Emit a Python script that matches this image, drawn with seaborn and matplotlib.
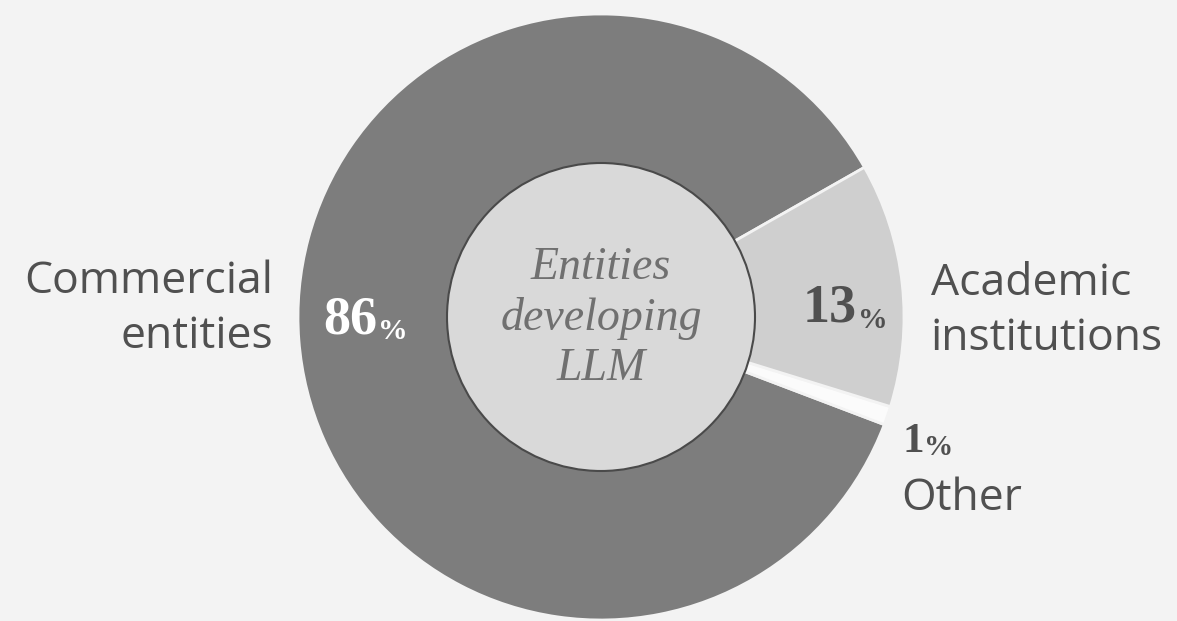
import matplotlib
matplotlib.use("Agg")
import matplotlib.pyplot as plt
import seaborn as sns

# Share of entities developing large language models
segments = ["Commercial entities", "Other", "Academic institutions"]
shares = [86, 1, 13]
label_lines = {
    "Commercial entities": "Commercial\nentities",
    "Academic institutions": "Academic\ninstitutions",
    "Other": "Other",
}
centre_title = "Entities\ndeveloping\nLLM"

sns.set_theme(style="white")
plt.rcParams["font.family"] = ["Open Sans", "DejaVu Sans"]

BG = "#f3f3f3"
W, H = 1177, 621
colors = ["#7d7d7d", "#fbfbfb", "#cfcfcf"]
SERIF = ["Liberation Serif", "DejaVu Serif"]

fig = plt.figure(figsize=(W / 100, H / 100), dpi=100, facecolor=BG)
ax = fig.add_axes([0, 0, 1, 1])
ax.set_facecolor(BG)

cx, cy, r_out, r_in = 601, H - 317, 303, 154


def py(y):
    return H - y


ax.pie(shares, colors=colors, startangle=29.6, counterclock=True,
       radius=r_out, center=(cx, cy),
       wedgeprops=dict(edgecolor=BG, linewidth=2))

ax.add_patch(plt.Circle((cx, cy), r_in, facecolor="#d9d9d9",
                        edgecolor="#4a4a4a", linewidth=1.5, zorder=3))

ax.set_xlim(0, W)
ax.set_ylim(0, H)
ax.set_aspect("equal")
ax.axis("off")

label_kw = dict(fontsize=32, color="#505050", linespacing=1.3)
ax.text(273, py(309), label_lines["Commercial entities"], ha="right",
        va="center", **label_kw)
ax.text(931, py(311), label_lines["Academic institutions"], ha="left",
        va="center", **label_kw)
ax.text(901, py(510), label_lines["Other"], ha="left", va="baseline",
        **label_kw)

ax.text(cx, py(318), centre_title, ha="center", va="center",
        family=SERIF, style="italic", fontsize=33, color="#707070",
        linespacing=1.23, zorder=4)


def pct_label(x, y, value, color, size, pct_ratio):
    num = ax.text(x, py(y), f"{value}", ha="left", va="baseline",
                  family=SERIF, fontweight="bold", fontsize=size,
                  color=color, zorder=5)
    ax.annotate("%", xy=(1.0, 0.0), xycoords=num, xytext=(0.5, 0),
                textcoords="offset points", ha="left", va="bottom",
                family=SERIF, fontweight="bold", fontsize=size * pct_ratio,
                color=color, zorder=5)


pct_label(323, 333, shares[0], "#ffffff", 39, 0.55)
pct_label(803, 322, shares[2], "#505050", 39, 0.55)
pct_label(902, 452, shares[1], "#505050", 31, 0.68)

fig.savefig("out.png", dpi=100, facecolor=BG)
